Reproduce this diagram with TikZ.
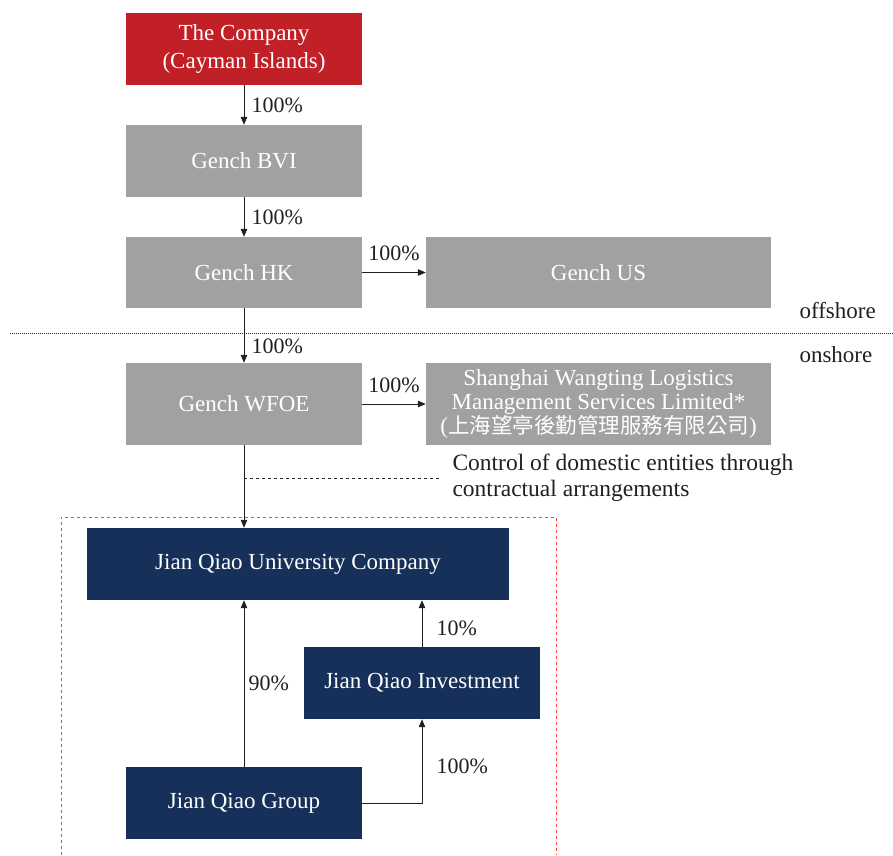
\documentclass[tikz,border=0pt]{standalone}
\usepackage{fontspec}
\setmainfont{Liberation Serif}
\newfontfamily\cjk{Noto Sans CJK TC}
\usetikzlibrary{arrows.meta}
\definecolor{coRed}{HTML}{C02026}
\definecolor{coGrey}{HTML}{A0A1A3}
\definecolor{coNavy}{HTML}{17305A}
\definecolor{coText}{HTML}{231F20}
\begin{document}
\begin{tikzpicture}[x=1pt, y=-1pt,
    font=\fontsize{23}{24}\selectfont,
    box/.style={minimum width=236pt, minimum height=72pt, inner sep=0pt, text=white, align=center},
    redbox/.style={box, fill=coRed},
    greybox/.style={box, fill=coGrey},
    navybox/.style={box, fill=coNavy},
    arr/.style={-{Triangle[length=8pt, width=6.5pt]}, line width=1pt, draw=coText},
    pct/.style={font=\fontsize{22}{24}\selectfont, text=coText, inner sep=3pt}]
    \useasboundingbox (0, 0) rectangle (893, 855);
    \node[redbox, font=\fontsize{23}{27}\selectfont] (comp) at (244, 49) {The Company\\[1pt](Cayman Islands)};
    \node[greybox] (bvi) at (244, 161) {Gench BVI};
    \node[greybox, minimum height=71pt] (hk) at (244, 272.5) {Gench HK};
    \node[greybox, minimum width=345pt, minimum height=71pt] (us) at (598.5, 272.5) {Gench US};
    \node[greybox, minimum height=82pt] (wfoe) at (244, 404) {Gench WFOE};
    \node[greybox, minimum width=345pt, minimum height=82pt] (wt) at (598.5, 404)
        {Shanghai Wangting Logistics\\Management Services Limited*\\({\cjk\fontsize{21.5}{24}\selectfont 上海望亭後勤管理服務有限公司})};
    \node[navybox, minimum width=422pt] (uni) at (298, 564) {Jian Qiao University Company};
    \node[navybox] (inv) at (422, 683) {Jian Qiao Investment};
    \node[navybox] (grp) at (244, 803) {Jian Qiao Group};
    \draw[densely dotted, line width=1pt, coText] (10, 333) -- (893, 333);
    \node[anchor=west, text=coText] (off) at (796, 311) {offshore};
    \node[anchor=west, text=coText] (on) at (796, 355) {onshore};
    \draw[arr] (comp) -- (bvi) node[pct, midway, right, xshift=4pt] {100\%};
    \draw[arr] (bvi) -- (hk) node[pct, midway, right, xshift=4pt] {100\%};
    \draw[arr] (hk) -- (us) node[pct, midway, above, yshift=8pt] {100\%};
    \draw[arr] (hk) -- (wfoe) node[pct, pos=0.7, right, xshift=4pt] {100\%};
    \draw[arr] (wfoe) -- (wt) node[pct, midway, above, yshift=8pt] {100\%};
    \draw[arr] (wfoe) -- (wfoe.south |- uni.north);
    \node[anchor=west, align=left, text=coText, font=\fontsize{23.5}{26}\selectfont] (ctl) at (449, 478)
        {Control of domestic entities through\\contractual arrangements};
    \coordinate (tap) at (244, 478);
    \draw[dashed, line width=0.8pt, coText] (tap) -- ([xshift=-9pt]ctl.west);
    \draw[dashed, line width=0.8pt, red!75!white] (61, 855) |- (556, 517) -- (556, 855);
    \draw[arr] (grp) -- (grp.north |- uni.south) node[pct, midway, right, xshift=1pt] {90\%};
    \draw[arr] (inv) -- (inv.north |- uni.south) node[pct, pos=0.4, right, xshift=11pt] {10\%};
    \draw[arr] (grp) -| (inv) node[pct, pos=0.72, right, xshift=11pt] {100\%};
\end{tikzpicture}
\end{document}
